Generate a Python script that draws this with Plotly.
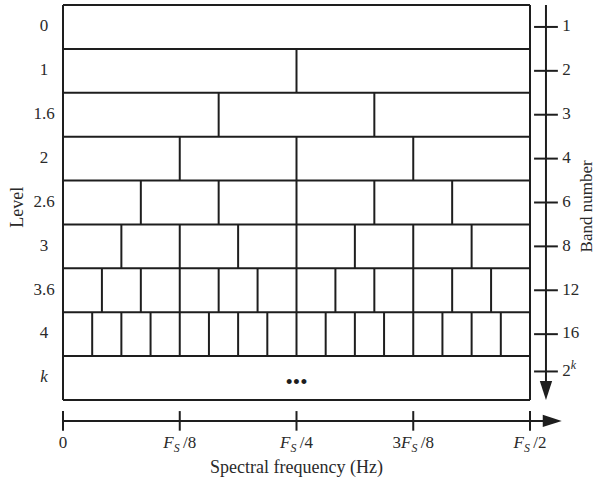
import plotly.graph_objects as go

# Decomposition levels (rows, top to bottom) and the number of sub-bands in each row
levels = ["0", "1", "1.6", "2", "2.6", "3", "3.6", "4", "<i>k</i>"]
bands = [1, 2, 3, 4, 6, 8, 12, 16]          # the last row (level k) is open-ended
band_labels = ["1", "2", "3", "4", "6", "8", "12", "16", "2<sup><i>k</i></sup>"]
band_tick_rows = [0.5, 1.5, 2.5, 3.5, 4.5, 5.5, 6.5, 7.5, 8.35]

# Frequency axis, in units of the sampling rate Fs
freq_ticks = [0, 0.125, 0.25, 0.375, 0.5]
FS = "<i>F</i><sub><i>S</i></sub>"
freq_labels = ["0", FS + "\u2009/8", FS + "\u2009/4", "3" + FS + "\u2009/8", FS + "\u2009/2"]

FONT = "Liberation Serif"
INK = "#1e1e1e"
TXT = "#2a2a2a"

n_rows = len(levels)
f_max = freq_ticks[-1]

# ---- grid of sub-band cells ----
xs, ys = [], []
for i in range(n_rows + 1):
    xs += [0, f_max, None]
    ys += [i, i, None]
for x in (0, f_max):
    xs += [x, x, None]
    ys += [0, n_rows, None]
for i, n in enumerate(bands):
    for j in range(1, n):
        x = f_max * j / n
        xs += [x, x, None]
        ys += [i, i + 1, None]

fig = go.Figure()
fig.add_trace(go.Scatter(x=xs, y=ys, mode="lines",
                         line=dict(color=INK, width=2), hoverinfo="skip"))

# ellipsis in the level-k row
fig.add_trace(go.Scatter(x=[f_max / 2], y=[n_rows - 0.36], mode="text",
                         text=["•••"], textposition="middle center",
                         textfont=dict(family=FONT, size=21, color=INK)))

# ---- level labels on the left ----
fig.add_trace(go.Scatter(x=[-0.0203] * n_rows, y=[i + 0.5 for i in range(n_rows)],
                         mode="text", text=levels, textposition="middle center",
                         textfont=dict(family=FONT, size=17, color=TXT)))

# ---- band-number axis on the right ----
bx = 0.5171
fig.add_trace(go.Scatter(x=[bx, bx], y=[0, n_rows - 0.2], mode="lines",
                         line=dict(color=INK, width=2), hoverinfo="skip"))
fig.add_trace(go.Scatter(x=[bx], y=[n_rows], mode="markers",
                         marker=dict(symbol="arrow", angle=180, size=20, color=INK,
                                     line=dict(width=0))))
fig.add_trace(go.Scatter(x=[bx] * len(band_tick_rows), y=band_tick_rows, mode="markers",
                         marker=dict(symbol="line-ew", size=17,
                                     line=dict(color=INK, width=2))))
fig.add_trace(go.Scatter(x=[0.5345] * len(band_tick_rows), y=band_tick_rows, mode="text",
                         text=band_labels, textposition="middle right",
                         textfont=dict(family=FONT, size=17, color=TXT)))

# ---- frequency axis at the bottom ----
fy = 9.476
fig.add_trace(go.Scatter(x=[0, 0.52], y=[fy, fy], mode="lines",
                         line=dict(color=INK, width=2), hoverinfo="skip"))
fig.add_trace(go.Scatter(x=[0.534], y=[fy], mode="markers",
                         marker=dict(symbol="arrow", angle=90, size=20, color=INK,
                                     line=dict(width=0))))
fig.add_trace(go.Scatter(x=freq_ticks, y=[fy] * len(freq_ticks), mode="markers",
                         marker=dict(symbol="line-ns", size=14,
                                     line=dict(color=INK, width=2))))
fig.add_trace(go.Scatter(x=freq_ticks, y=[10.0] * len(freq_ticks), mode="text",
                         text=freq_labels, textposition="middle center",
                         textfont=dict(family=FONT, size=17, color=TXT)))

# ---- axis titles ----
fig.add_annotation(x=f_max / 2, y=10.53, xref="x", yref="y", showarrow=False,
                   text="Spectral frequency (Hz)",
                   font=dict(family=FONT, size=18, color=TXT))
fig.add_annotation(x=-0.0493, y=4.6, xref="x", yref="y", showarrow=False,
                   text="Level", textangle=-90,
                   font=dict(family=FONT, size=18, color=TXT))
fig.add_annotation(x=0.5605, y=4.6, xref="x", yref="y", showarrow=False,
                   text="Band number", textangle=-90,
                   font=dict(family=FONT, size=17, color=TXT))

fig.update_layout(
    width=599, height=480,
    margin=dict(l=0, r=0, t=0, b=0),
    paper_bgcolor="white", plot_bgcolor="white",
    showlegend=False,
    xaxis=dict(range=[-0.06745, 0.57388], visible=False, fixedrange=True),
    yaxis=dict(range=[10.823, -0.1139], visible=False, fixedrange=True),
)

fig.write_html("out.html")
